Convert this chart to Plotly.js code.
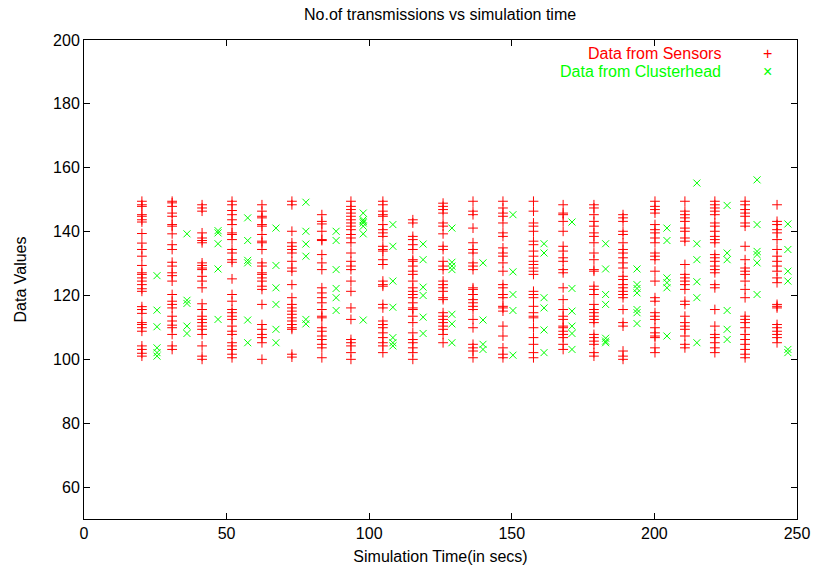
<!DOCTYPE html>
<html>
<head>
<meta charset="utf-8">
<script src="https://cdn.plot.ly/plotly-3.0.1.min.js"></script>
<style>html,body{margin:0;padding:0;background:#fff;}#chart{width:815px;height:573px;}</style>
</head>
<body>
<div id="chart"></div>
<script>
// Sensor column times (s)
const sensorTimes = [20.3, 30.9, 41.4, 51.9, 62.4, 72.9, 83.4, 93.6, 104.8, 115.3, 125.9, 136.4, 146.9, 157.6, 168.0, 178.8, 189.0, 200.2, 210.7, 221.2, 231.8, 243.0];
const sensorValues = [
  [149.5,148.4,147.9,145.3,144.8,143.7,143.0,139.4,136.4,134.4,132.3,129.4,127.1,126.6,125.5,124.5,123.4,122.1,121.3,116.5,115.6,114.4,111.5,110.9,109.9,108.8,104.2,103.1,101.9,101.0],
  [149.5,149.0,147.9,145.8,144.8,142.2,141.7,139.3,135.9,134.4,130.4,129.2,127.1,126.2,124.5,120.3,118.2,117.2,116.1,113.5,112.0,110.7,109.9,107.8,104.2,103.1],
  [148.4,147.4,146.4,139.6,138.0,137.2,136.5,130.2,129.4,128.6,128.1,126.0,124.5,122.4,117.4,115.6,113.5,112.5,111.5,110.4,109.4,107.8,104.2,101.0,100.0],
  [149.5,148.4,146.6,145.3,143.7,142.2,139.6,139.1,137.5,134.4,133.3,131.2,130.4,125.2,120.3,118.2,115.6,114.6,113.5,112.5,110.4,108.8,107.8,105.2,104.2,103.1,101.6,100.5],
  [148.4,146.4,144.8,144.3,142.2,141.7,139.1,137.0,136.5,134.4,130.2,129.2,127.1,126.6,125.5,124.5,122.9,121.9,117.2,110.9,109.4,107.8,106.8,105.2,100.0],
  [149.5,148.4,140.1,136.5,135.4,134.4,133.3,130.7,128.6,127.6,123.4,119.3,117.2,116.1,115.1,114.1,113.0,112.0,110.9,109.9,109.4,101.6,100.7],
  [145.3,143.2,142.4,140.1,137.5,137.2,132.8,130.2,128.1,122.4,120.8,119.3,117.7,115.6,113.5,113.0,109.9,108.8,107.3,106.2,104.7,103.6,100.5],
  [149.5,147.9,146.9,145.8,144.8,143.7,142.7,141.7,140.6,139.1,138.0,136.5,133.3,130.7,129.2,128.1,124.5,121.3,116.1,112.5,106.2,105.2,104.2,102.1,100.0],
  [149.5,148.4,146.4,145.3,144.8,142.2,140.6,139.6,138.5,135.4,134.4,133.9,131.2,129.7,124.5,123.4,122.9,117.2,116.1,112.0,110.9,109.9,108.3,106.8,105.2,104.2,102.1],
  [143.7,142.7,138.5,137.5,135.9,134.4,131.2,130.7,129.2,127.6,126.6,124.5,122.4,121.3,120.3,119.3,117.7,116.1,115.6,113.5,111.5,108.3,106.2,105.2,103.6,102.1,100.0],
  [148.9,147.9,146.9,145.8,142.7,141.7,139.3,135.4,134.4,130.7,129.2,128.1,124.5,123.4,122.4,121.3,119.3,118.7,114.6,113.5,112.5,111.5,110.4,109.4,107.8,105.2],
  [149.5,146.4,145.3,141.1,136.5,134.4,133.3,130.2,129.2,128.1,122.4,121.9,120.3,118.7,117.7,116.6,115.6,112.5,109.9,104.7,103.6,102.6,100.5],
  [149.5,147.4,145.8,144.8,142.7,139.6,138.5,134.9,133.3,132.3,130.2,127.6,123.4,122.4,120.3,119.3,116.6,116.1,115.1,110.4,107.3,103.6,101.6,100.5],
  [149.5,146.4,142.7,141.7,140.1,137.0,135.9,133.9,132.3,130.7,129.7,128.6,127.6,126.6,121.3,120.3,119.3,116.6,114.6,113.5,113.0,109.9,106.8,104.7,102.1,100.5],
  [148.4,145.8,145.3,143.2,140.1,135.4,133.9,131.8,130.7,128.1,127.1,122.4,118.7,115.6,113.5,112.5,110.4,109.9,108.8,107.8,106.8,104.7,103.1],
  [148.4,147.4,145.3,143.2,141.7,139.6,138.5,136.5,133.3,131.2,128.1,127.6,122.9,121.9,120.3,117.2,115.6,114.6,113.5,112.5,111.5,107.8,106.8,105.7,104.7,102.1,101.0],
  [145.3,144.3,143.2,140.1,139.1,136.5,134.4,133.3,131.8,130.2,128.6,126.0,125.0,123.4,122.4,121.3,120.3,119.3,115.6,111.5,110.4,102.6,101.0,100.0],
  [149.5,147.9,146.9,145.8,142.2,140.6,139.6,138.0,136.5,133.3,132.3,131.2,127.6,124.5,119.3,118.2,114.6,113.5,112.5,109.9,108.3,107.3,106.8,103.6,102.1],
  [149.5,146.4,145.3,144.3,143.2,141.1,140.1,138.0,137.0,129.7,126.6,125.5,124.5,123.4,121.9,118.2,117.2,113.5,111.5,110.4,109.4,107.3,104.7,103.6],
  [149.5,148.4,147.4,146.4,145.3,142.7,141.7,140.1,138.5,137.5,136.5,132.8,131.8,130.7,129.2,128.1,127.1,123.4,122.4,115.6,110.4,107.8,106.8,105.2,103.6,102.1],
  [149.5,148.4,146.9,145.8,144.8,142.7,141.7,135.4,131.2,128.6,127.6,126.6,124.5,121.9,119.3,113.5,112.5,111.5,109.9,107.8,106.2,104.7,103.1,101.6,100.5],
  [148.4,143.2,142.2,140.6,139.6,137.5,134.4,132.3,130.7,129.2,127.6,125.5,124.0,117.2,116.6,116.1,110.9,109.9,108.8,107.8,106.8,105.2]
];
// Clusterhead column times (s)
const headTimes = [25.6, 36.1, 47.0, 57.4, 67.3, 77.8, 88.4, 97.9, 108.3, 118.9, 129.0, 139.9, 150.4, 161.3, 171.1, 182.9, 193.9, 204.4, 214.9, 225.5, 236.0, 246.8];
const headValues = [
  [126.2,115.4,110.2,103.6,102.1,101.0],
  [139.3,118.5,117.5,110.4,108.1],
  [140.3,139.6,136.2,128.3,112.5],
  [144.3,137.2,131.0,130.2,112.3,105.2],
  [141.1,129.4,122.4,117.2,109.4,105.2],
  [149.2,140.1,136.1,132.3,112.5,111.1],
  [140.1,137.2,128.1,122.2,119.3,115.3],
  [145.8,143.7,143.2,142.7,141.7,139.3,112.3],
  [142.2,135.4,124.5,116.3,106.8,105.2,104.2],
  [136.1,131.2,122.6,120.0,113.2,108.1],
  [141.1,130.4,129.2,128.1,114.1,111.1,105.2],
  [130.2,112.3,104.7,103.1],
  [145.3,127.4,120.3,115.3,101.3],
  [136.2,133.3,119.3,116.1,109.2,102.1],
  [143.0,122.2,115.1,110.4,108.1,103.1],
  [136.2,128.3,120.3,117.2,106.6,105.7,105.2],
  [128.3,123.4,122.2,120.8,115.6,114.6,111.2],
  [141.1,137.2,125.5,124.0,122.4,107.3],
  [155.2,136.2,131.2,124.3,119.3,105.2],
  [148.2,133.3,131.2,115.3,109.4,106.2],
  [156.2,142.2,133.8,132.8,130.2,120.3],
  [142.4,134.4,127.6,124.5,103.1,102.1]
];
const xTicks = [0, 50, 100, 150, 200, 250];
const yTicks = [60, 80, 100, 120, 140, 160, 180, 200];

function flatten(times, values) {
  const xs = [], ys = [];
  values.forEach((col, i) => col.forEach(v => { xs.push(times[i]); ys.push(v); }));
  return {xs, ys};
}
const s = flatten(sensorTimes, sensorValues);
const h = flatten(headTimes, headValues);

const RED = '#ff0000', GREEN = '#00ff00';
const font = {family: 'Liberation Sans, Arial, sans-serif', size: 16, color: '#000'};

const traces = [
  {x: s.xs, y: s.ys, type: 'scatter', mode: 'markers', name: 'Data from Sensors',
   marker: {symbol: 'cross-thin-open', size: 7, color: RED, line: {color: RED, width: 1}}},
  {x: h.xs, y: h.ys, type: 'scatter', mode: 'markers', name: 'Data from Clusterhead',
   marker: {symbol: 'x-thin-open', size: 7, color: GREEN, line: {color: GREEN, width: 1}}}
];

const axisCommon = {
  showline: true, linecolor: '#000', linewidth: 1, mirror: 'allticks',
  ticks: 'inside', ticklen: 6, tickwidth: 1, tickcolor: '#000',
  showgrid: false, zeroline: false, tickfont: font
};

const layout = {
  width: 815, height: 573,
  margin: {l: 84, r: 18, t: 40, b: 54},
  paper_bgcolor: '#fff', plot_bgcolor: '#fff',
  showlegend: false,
  font: font,
  title: {text: 'No.of transmissions vs simulation time', font: font, x: 0.54, xanchor: 'center', y: 0.974, yanchor: 'middle'},
  xaxis: Object.assign({}, axisCommon, {range: [0, 250], tickmode: 'array', tickvals: xTicks,
    title: {text: 'Simulation Time(in secs)', font: font, standoff: 9}}),
  yaxis: Object.assign({}, axisCommon, {range: [50, 200], tickmode: 'array', tickvals: yTicks,
    title: {text: 'Data Values', font: font, standoff: 22}}),
  annotations: [
    {xref: 'paper', yref: 'paper', x: 0.896, y: 0.971, xanchor: 'right', yanchor: 'middle', showarrow: false,
     text: 'Data from Sensors', font: {family: font.family, size: 16, color: RED}},
    {xref: 'paper', yref: 'paper', x: 0.896, y: 0.935, xanchor: 'right', yanchor: 'middle', showarrow: false,
     text: 'Data from Clusterhead', font: {family: font.family, size: 16, color: GREEN}},
    {xref: 'paper', yref: 'paper', x: 0.958, y: 0.971, xanchor: 'center', yanchor: 'middle', showarrow: false,
     text: '+', font: {family: font.family, size: 16, color: RED}},
    {xref: 'paper', yref: 'paper', x: 0.958, y: 0.935, xanchor: 'center', yanchor: 'middle', showarrow: false,
     text: '×', font: {family: font.family, size: 16, color: GREEN}}
  ]
};

Plotly.newPlot('chart', traces, layout, {displayModeBar: false, staticPlot: true});
</script>
</body>
</html>
